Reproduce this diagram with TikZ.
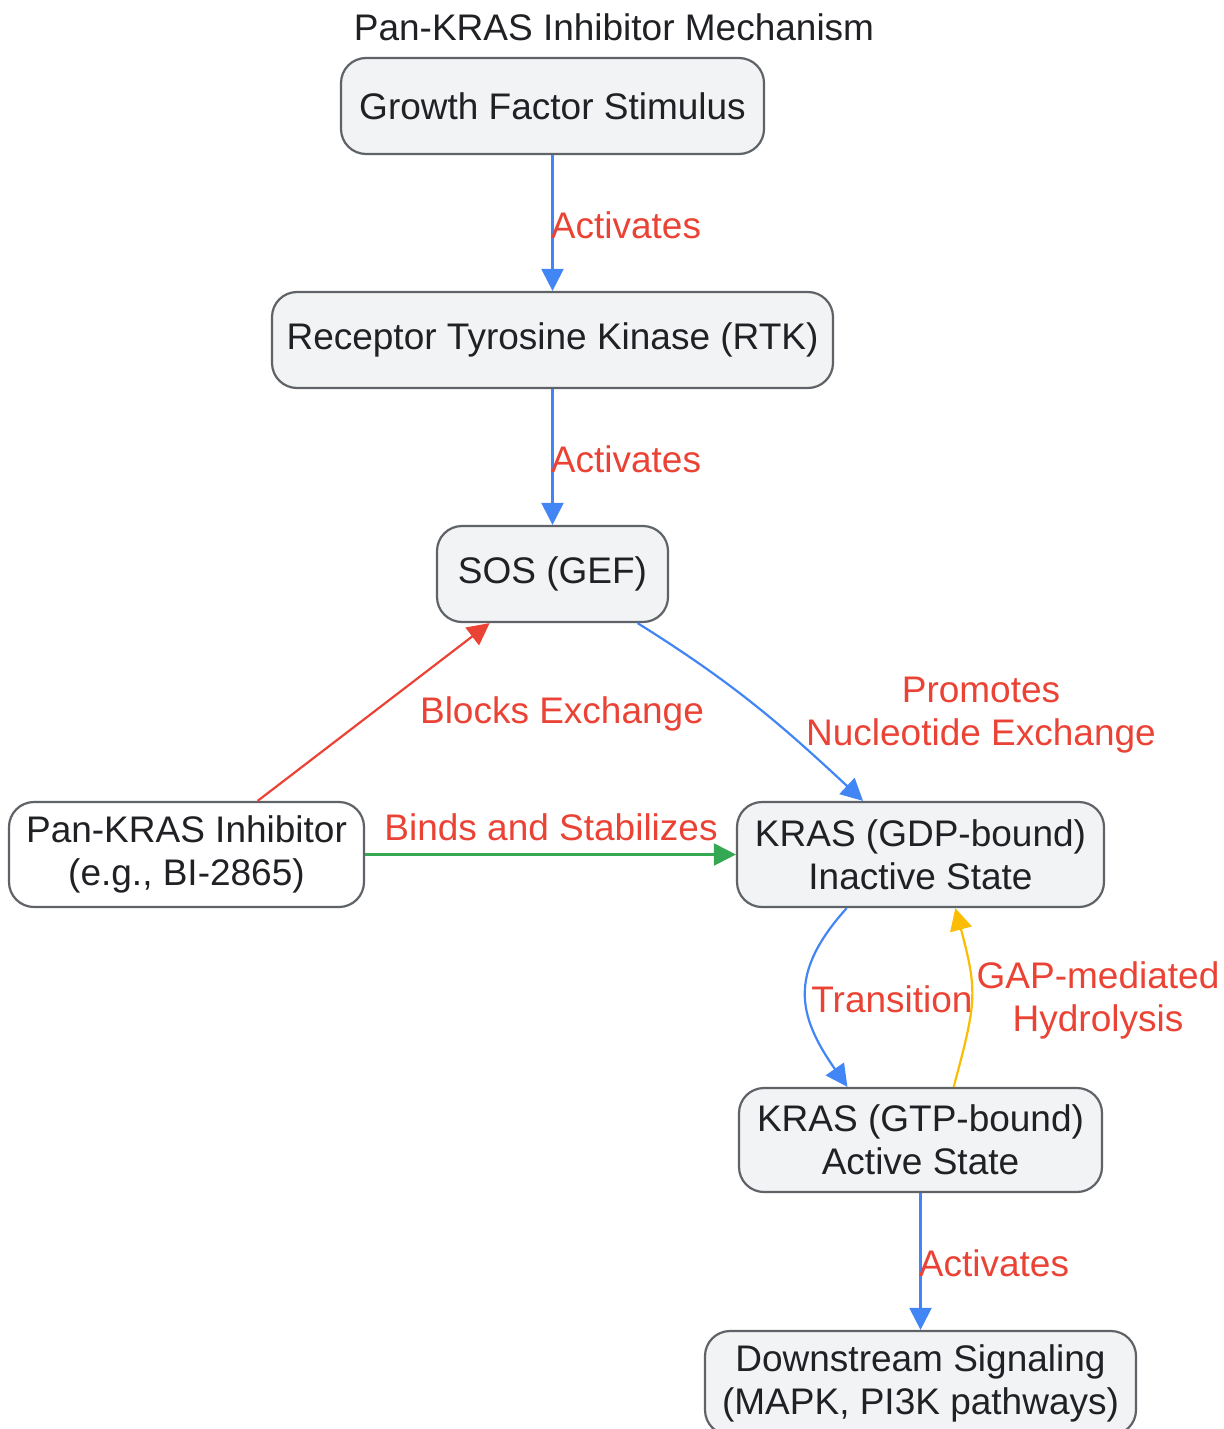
\documentclass[tikz,border=0pt]{standalone}
\usepackage{fontspec}
\setmainfont{Liberation Sans}
\usetikzlibrary{arrows.meta}

\definecolor{boxfill}{HTML}{F1F3F4}
\definecolor{boxline}{HTML}{5F6368}
\definecolor{inktext}{HTML}{202124}
\definecolor{gblue}{HTML}{4285F4}
\definecolor{gred}{HTML}{EA4335}
\definecolor{ggreen}{HTML}{34A853}
\definecolor{gyellow}{HTML}{FBBC04}

\begin{document}
\begin{tikzpicture}[x=0.5pt, y=-0.5pt,
    font=\fontsize{18.5}{21.5}\selectfont,
    stepbox/.style={draw=boxline, fill=boxfill, line width=1.1pt, rounded corners=12.5pt,
      text=inktext, align=center, minimum height=48pt, inner sep=0pt},
    edgelbl/.style={text=gred, align=center, inner sep=0pt},
    link/.style={line width=1.1pt, -{Triangle[length=11pt, width=11pt]}}]
      \useasboundingbox (0,0) rectangle (1223,1429);

      \node[text=inktext] (title) at (614, 27) {Pan-KRAS Inhibitor Mechanism};

      \node[stepbox, minimum width=211.5pt] (growth) at (552.5, 106) {Growth Factor Stimulus};
      \node[stepbox, minimum width=280.5pt] (rtk) at (552.5, 340) {Receptor Tyrosine Kinase (RTK)};
      \node[stepbox, minimum width=115.5pt] (sos) at (552.5, 574) {SOS (GEF)};
      \node[stepbox, fill=white, minimum width=177.5pt, minimum height=52.5pt] (inhib) at (186.5, 854.5) {Pan-KRAS Inhibitor\\(e.g., BI-2865)};
      \node[stepbox, minimum width=183.5pt, minimum height=52.5pt] (gdp) at (920.5, 854.5) {KRAS (GDP-bound)\\Inactive State};
      \node[stepbox, minimum width=181.5pt, minimum height=52pt] (gtp) at (920.5, 1140) {KRAS (GTP-bound)\\Active State};
      \node[stepbox, minimum width=215.5pt, minimum height=52pt] (down) at (920.5, 1383) {Downstream Signaling\\(MAPK, PI3K pathways)};

      % activation chain
      \draw[link, gblue] (growth) -- (rtk);
      \node[edgelbl] (lbl1) at (626, 225) {Activates};
      \draw[link, gblue] (rtk) -- (sos);
      \node[edgelbl] (lbl2) at (626, 459) {Activates};
      \draw[link, gblue] (sos.-30) to[out=-32, in=137] (gdp.137);
      \node[edgelbl] (lbl3) at (981, 715) {Promotes\\Nucleotide Exchange};

      % inhibitor
      \draw[link, gred] (inhib.37) -- (sos.-142.5);
      \node[edgelbl] (lbl4) at (562, 714) {Blocks Exchange};
      \draw[link, ggreen] (inhib.east) -- (gdp.west);
      \node[edgelbl] (lbl5) at (551, 827) {Binds and Stabilizes};

      % KRAS cycle
      \draw[link, gblue] (gdp.-144) to[out=-132, in=125, looseness=1.25] (gtp.144);
      \node[edgelbl] (lbl6) at (892, 999) {Transition};
      \draw[link, gyellow] (gtp.58) to[out=75, in=-75, looseness=1.25] (gdp.-57);
      \node[edgelbl] (lbl7) at (1098, 1000) {GAP-mediated\\Hydrolysis};

      \draw[link, gblue] (gtp) -- (down);
      \node[edgelbl] (lbl8) at (994, 1263) {Activates};
    \end{tikzpicture}
\end{document}
